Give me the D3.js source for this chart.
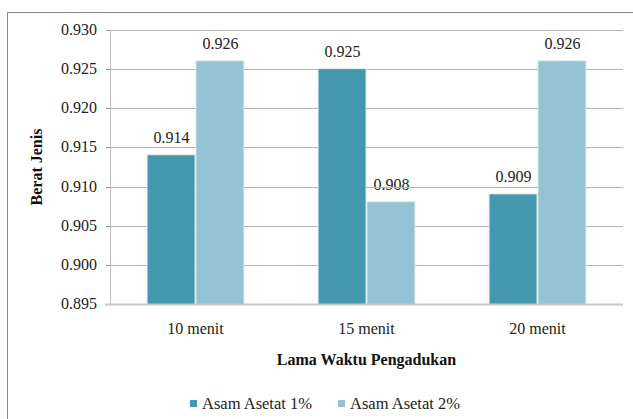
<!DOCTYPE html>
<html>
<head>
<meta charset="utf-8">
<script src="https://cdn.jsdelivr.net/npm/d3@7"></script>
<style>
  html, body { margin: 0; padding: 0; background: #fff; }
</style>
</head>
<body>
<svg id="chart" width="633" height="419" style="font-family:'Liberation Serif'"></svg>
<script>
// Categories, series and tick values
const categories = ["10 menit", "15 menit", "20 menit"];
const seriesNames = ["Asam Asetat 1%", "Asam Asetat 2%"];
const asam1 = [0.914, 0.925, 0.909];
const asam2 = [0.926, 0.908, 0.926];
const yTicks = [0.895, 0.900, 0.905, 0.910, 0.915, 0.920, 0.925, 0.930];
const colors = ["#4397ae", "#93c3d5"];

const FONT = "'Liberation Serif'";
const series = [asam1, asam2];
const rows = categories.map((c, i) => ({ cat: c, vals: series.map((s, j) => ({ key: seriesNames[j], idx: j, v: s[i] })) }));

const svg = d3.select("#chart");
const plot = { left: 110, right: 623, top: 30, bottom: 304 };

const x = d3.scaleBand().domain(categories)
  .range([plot.left, plot.right]).paddingInner(0.44).paddingOuter(0.22);
const xs = d3.scaleBand().domain(seriesNames)
  .range([0, x.bandwidth()]).paddingInner(0.04);
const y = d3.scaleLinear().domain([0.895, 0.930]).range([plot.bottom, plot.top]);
const fmt = d3.format(".3f");

// Y tick labels
svg.append("g").selectAll("text").data(yTicks).join("text")
  .attr("x", 97).attr("y", d => y(d) + 5)
  .attr("text-anchor", "end")
  .attr("font-size", 16).attr("fill", "#222")
  .style("font-family", FONT)
  .text(d => fmt(d));

// Value labels
svg.append("g").selectAll("g").data(rows).join("g")
  .attr("transform", d => `translate(${x(d.cat)},0)`)
  .selectAll("text").data(d => d.vals).join("text")
  .attr("x", d => xs(d.key) + xs.bandwidth() / 2 + 0.5)
  .attr("y", d => y(d.v) - 12)
  .attr("text-anchor", "middle")
  .attr("font-size", 16).attr("fill", "#222")
  .style("font-family", FONT)
  .text(d => fmt(d.v));

// X category labels
svg.append("g").selectAll("text").data(categories).join("text")
  .attr("x", d => x(d) + x.bandwidth() / 2).attr("y", 334)
  .attr("text-anchor", "middle")
  .attr("font-size", 16).attr("fill", "#222")
  .style("font-family", FONT)
  .text(d => d);

// Axis titles
svg.append("text")
  .attr("x", (plot.left + plot.right) / 2).attr("y", 365)
  .attr("text-anchor", "middle")
  .attr("font-size", 16).attr("font-weight", "bold").attr("fill", "#111")
  .style("font-family", FONT)
  .text("Lama Waktu Pengadukan");

svg.append("text")
  .attr("transform", `translate(42,${(plot.top + plot.bottom) / 2}) rotate(-90)`)
  .attr("text-anchor", "middle")
  .attr("font-size", 16).attr("font-weight", "bold").attr("fill", "#111")
  .style("font-family", FONT)
  .text("Berat Jenis");

// Legend
const legendX = [190, 338];
const legend = svg.append("g").selectAll("g").data(seriesNames).join("g")
  .attr("transform", (d, i) => `translate(${legendX[i]},400)`);
legend.append("rect").attr("x", 0).attr("y", 0).attr("width", 7).attr("height", 7)
  .attr("fill", (d, i) => colors[i]);
legend.append("text").attr("x", 12).attr("y", 8.5)
  .attr("font-size", 16.5).attr("fill", "#222")
  .style("font-family", FONT)
  .text(d => d);

// Outer frame
svg.append("rect")
  .attr("x", 7.5).attr("y", 12.5)
  .attr("width", 640).attr("height", 420)
  .attr("fill", "none").attr("stroke", "#8a8a8a").attr("stroke-width", 1);

// Gridlines
svg.append("g").selectAll("line").data(yTicks.slice(1)).join("line")
  .attr("x1", plot.left).attr("x2", plot.right)
  .attr("y1", d => Math.round(y(d)) + 0.5).attr("y2", d => Math.round(y(d)) + 0.5)
  .attr("stroke", "#b4b4b4").attr("stroke-width", 1);

// Y axis line and tick marks
svg.append("line")
  .attr("x1", plot.left + 0.5).attr("x2", plot.left + 0.5)
  .attr("y1", plot.top).attr("y2", plot.bottom)
  .attr("stroke", "#bdbdbd");
svg.append("g").selectAll("line").data(yTicks).join("line")
  .attr("x1", plot.left - 4).attr("x2", plot.left)
  .attr("y1", d => Math.round(y(d)) + 0.5).attr("y2", d => Math.round(y(d)) + 0.5)
  .attr("stroke", "#9a9a9a");

// Bars with a light edge
const groups = svg.append("g").selectAll("g").data(rows).join("g")
  .attr("transform", d => `translate(${x(d.cat)},0)`);
groups.selectAll("rect.shadow").data(d => d.vals).join("rect")
  .attr("class", "shadow")
  .attr("x", d => xs(d.key) - 1).attr("y", d => y(d.v) - 1)
  .attr("width", xs.bandwidth() + 2).attr("height", d => y(0.895) - y(d.v) + 1)
  .attr("fill", "#e4e4e4");
groups.selectAll("rect.bar").data(d => d.vals).join("rect")
  .attr("class", "bar")
  .attr("x", d => xs(d.key)).attr("y", d => y(d.v))
  .attr("width", xs.bandwidth()).attr("height", d => y(0.895) - y(d.v))
  .attr("fill", d => colors[d.idx]);

// X axis baseline
svg.append("line")
  .attr("x1", plot.left - 5).attr("x2", plot.right)
  .attr("y1", plot.bottom + 0.5).attr("y2", plot.bottom + 0.5)
  .attr("stroke", "#c8c8c8").attr("stroke-width", 2);
</script>
</body>
</html>
